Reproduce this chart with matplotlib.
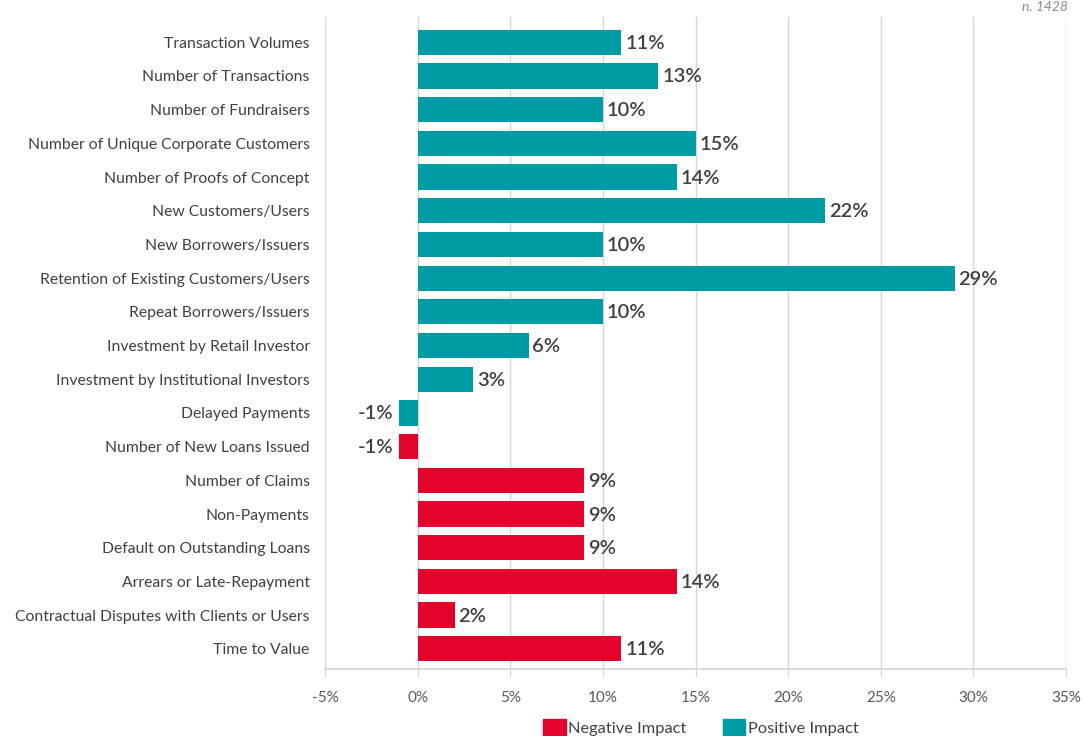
import matplotlib.pyplot as plt
from matplotlib.patches import Patch

plt.rcParams['font.family'] = ['Lato', 'DejaVu Sans']

categories = [
    "Transaction Volumes",
    "Number of Transactions",
    "Number of Fundraisers",
    "Number of Unique Corporate Customers",
    "Number of Proofs of Concept",
    "New Customers/Users",
    "New Borrowers/Issuers",
    "Retention of Existing Customers/Users",
    "Repeat Borrowers/Issuers",
    "Investment by Retail Investor",
    "Investment by Institutional Investors",
    "Delayed Payments",
    "Number of New Loans Issued",
    "Number of Claims",
    "Non-Payments",
    "Default on Outstanding Loans",
    "Arrears or Late-Repayment",
    "Contractual Disputes with Clients or Users",
    "Time to Value",
]
values = [11, 13, 10, 15, 14, 22, 10, 29, 10, 6, 3, -1, -1, 9, 9, 9, 14, 2, 11]
impact = ["Positive"] * 12 + ["Negative"] * 7
xticks = [-5, 0, 5, 10, 15, 20, 25, 30, 35]

colors = {"Positive": "#009CA6", "Negative": "#E4032B"}
grid_c = "#D6D6D6"
text_c = "#404040"

fig = plt.figure(figsize=(10.83, 7.36), dpi=100)
ax = fig.add_axes([325 / 1083, 67 / 736, (1066 - 325) / 1083, (669 - 17) / 736])

ypos = list(range(len(categories)))
ax.barh(ypos, values, height=0.75, color=[colors[i] for i in impact], zorder=3)

# value labels next to each bar
for y, v in zip(ypos, values):
    if v >= 0:
        ax.text(v + 0.2, y + 0.03, f"{v}%", va="center", ha="left", fontsize=14.5,
                color=text_c, fontweight="semibold")
    else:
        ax.text(v - 0.3, y + 0.03, f"{v}%", va="center", ha="right", fontsize=14.5,
                color=text_c, fontweight="semibold")

ax.set_xlim(-5, 35)
ax.set_ylim(len(categories) - 0.4, -0.75)
ax.set_xticks(xticks)
ax.set_xticklabels([f"{t}%" for t in xticks], fontsize=11, color="#595959")
ax.set_yticks(ypos)
ax.set_yticklabels(categories, fontsize=11.3, color=text_c)

ax.grid(axis="x", color=grid_c, linewidth=1, zorder=0)
for s in ["top", "right", "left"]:
    ax.spines[s].set_visible(False)
ax.spines["bottom"].set_color(grid_c)
ax.spines["bottom"].set_linewidth(1.2)
ax.tick_params(axis="x", direction="out", length=6, color=grid_c, pad=10)
ax.tick_params(axis="y", length=0, pad=11)

handles = [Patch(color=colors["Negative"], label="Negative Impact"),
           Patch(color=colors["Positive"], label="Positive Impact")]
fig.legend(handles=handles, loc="center", bbox_to_anchor=(0.647, 8 / 736),
           ncol=2, frameon=False, fontsize=11.8, handlelength=1.4, handleheight=1.4,
           handletextpad=0.15, columnspacing=2.2, labelcolor=text_c)

fig.text(1068 / 1083, 1 - 1 / 736, "n. 1428", ha="right", va="top",
         fontsize=10, style="italic", color="#8c8c8c")

fig.savefig("out.png", dpi=100)
